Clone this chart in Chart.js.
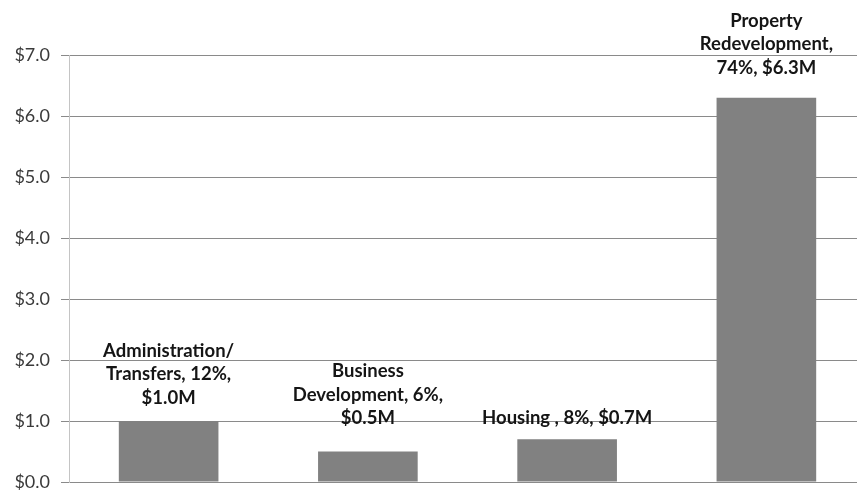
<!DOCTYPE html>
<html>
<head>
<meta charset="utf-8">
<title>Spending by category</title>
<script src="https://cdn.jsdelivr.net/npm/chart.js@4/dist/chart.umd.min.js"></script>
<style>
  html, body { margin: 0; padding: 0; background: #fff; overflow: hidden; }
  #wrap { width: 866px; height: 491px; position: relative; }
</style>
</head>
<body>
<div id="wrap"><canvas id="spendChart"></canvas></div>
<script>
// Spending per program area, millions of dollars
const categories = ['Administration/Transfers', 'Business Development', 'Housing', 'Property Redevelopment'];
const amounts = [1.0, 0.5, 0.7, 6.3];
const shares = [12, 6, 8, 74];
const yTicks = [0, 1, 2, 3, 4, 5, 6, 7];

const money = (v) => '$' + v.toFixed(1) + 'M';

// label text stacked above each bar
const labelLines = [
  ['Administration/', 'Transfers, ' + shares[0] + '%,', money(amounts[0])],
  ['Business', 'Development, ' + shares[1] + '%,', money(amounts[1])],
  ['Housing , ' + shares[2] + '%, ' + money(amounts[2])],
  ['Property', 'Redevelopment,', shares[3] + '%, ' + money(amounts[3])]
];
// gap from the bar top to the centre of the last label line
const labelGap = [23, 33, 21, 30];

const barLabels = {
  id: 'barLabels',
  afterDatasetsDraw(chart) {
    const ctx = chart.ctx;
    const meta = chart.getDatasetMeta(0);
    ctx.save();
    ctx.font = 'bold 18.5px Lato';
    ctx.fillStyle = '#151515';
    ctx.textAlign = 'center';
    ctx.textBaseline = 'middle';
    const lh = 23.5;
    meta.data.forEach((bar, i) => {
      const lines = labelLines[i];
      const last = bar.y - labelGap[i];
      lines.forEach((t, k) => {
        ctx.fillText(t, bar.x, last - (lines.length - 1 - k) * lh);
      });
    });
    ctx.restore();
  }
};

new Chart(document.getElementById('spendChart'), {
  type: 'bar',
  data: {
    labels: categories,
    datasets: [{
      data: amounts,
      backgroundColor: '#818181',
      borderWidth: 0,
      categoryPercentage: 1.0,
      barPercentage: 0.5
    }]
  },
  options: {
    responsive: true,
    maintainAspectRatio: false,
    animation: false,
    layout: { padding: { top: 55, bottom: 9, left: 0, right: 0 } },
    plugins: { legend: { display: false }, tooltip: { enabled: false } },
    scales: {
      x: {
        ticks: { display: false },
        grid: { display: false, drawTicks: false },
        border: { display: true, color: '#8a8a8a', width: 1 },
        afterFit(scale) { scale.height = 0; }
      },
      y: {
        min: 0,
        max: 7,
        afterBuildTicks(scale) { scale.ticks = yTicks.map(v => ({ value: v })); },
        ticks: {
          padding: 11,
          color: '#3a3a3a',
          font: { family: 'Lato', size: 18 },
          callback: (v) => '$' + Number(v).toFixed(1)
        },
        grid: { color: '#8a8a8a', lineWidth: 1, tickLength: 8 },
        border: { display: true, color: '#c4c4c4', width: 1 },
        afterFit(scale) {
          scale.width = 69;
          // keep the bottom tick label from pushing the plot area up
          scale.paddingTop = 0;
          scale.paddingBottom = 0;
        }
      }
    }
  },
  plugins: [barLabels]
});
</script>
</body>
</html>
